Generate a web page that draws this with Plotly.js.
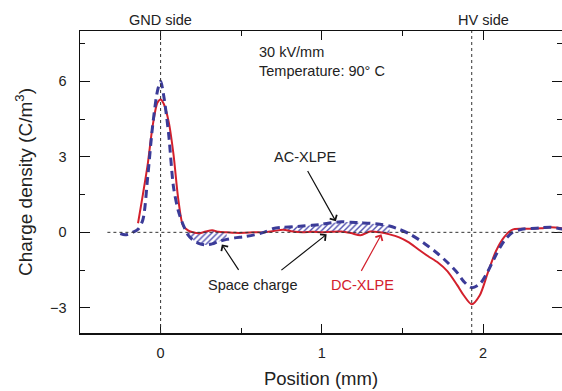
<!DOCTYPE html>
<html>
<head>
<meta charset="utf-8">
<script src="https://cdn.plot.ly/plotly-3.0.1.min.js"></script>
<style>html,body{margin:0;padding:0;background:#fff;}#chart{width:562px;height:391px;}</style>
</head>
<body>
<div id="chart"></div>
<script>
// Position (mm)
var position = [-0.25, -0.22, -0.18, -0.14, -0.11, -0.08, -0.05, -0.02, 0, 0.02, 0.05, 0.08, 0.11, 0.14, 0.17, 0.2, 0.24, 0.28, 0.32, 0.36, 0.41, 0.46, 0.52, 0.58, 0.64, 0.7, 0.76, 0.82, 0.88, 0.94, 1.0, 1.06, 1.12, 1.18, 1.24, 1.3, 1.36, 1.42, 1.48, 1.54, 1.6, 1.66, 1.72, 1.78, 1.84, 1.88, 1.93, 1.98, 2.03, 2.08, 2.13, 2.18, 2.24, 2.3, 2.36, 2.42, 2.5];
// DC-XLPE charge density (C/m^3)
var dcXlpe = [null, null, null, 0.36, 1.5, 2.7, 4.2, 5.15, 5.28, 5.1, 4.4, 3.1, 1.3, 0.25, 0.08, 0.0, -0.04, 0.03, 0.08, 0.02, 0.0, -0.02, -0.02, 0.0, 0.0, 0.05, 0.1, 0.03, 0.0, 0.02, 0.0, 0.02, 0.03, -0.03, -0.12, 0.03, 0.0, -0.08, -0.2, -0.4, -0.68, -0.95, -1.2, -1.55, -2.1, -2.5, -2.86, -2.5, -1.6, -0.75, -0.2, 0.1, 0.14, 0.14, 0.16, 0.2, 0.15];
// AC-XLPE charge density (C/m^3)
var acXlpe = [-0.05, -0.1, -0.02, 0.12, 0.5, 2.2, 4.2, 5.6, 6.0, 5.4, 3.9, 1.8, 0.85, 0.3, -0.1, -0.3, -0.45, -0.5, -0.46, -0.36, -0.28, -0.22, -0.17, -0.1, 0.0, 0.15, 0.2, 0.22, 0.25, 0.28, 0.32, 0.38, 0.42, 0.4, 0.38, 0.36, 0.32, 0.25, 0.12, -0.05, -0.28, -0.55, -0.85, -1.2, -1.6, -1.95, -2.2, -2.05, -1.55, -0.9, -0.35, -0.02, 0.12, 0.15, 0.18, 0.2, 0.12];
// Space-charge (hatched) ranges, mm
var hatchRanges = [[0.17, 0.41], [0.76, 1.42]];
// Electrode positions (mm)
var electrodes = [0, 1.93];
var electrodeLabels = ["GND side", "HV side"];
var electrodeLabelX = [0, 2];

var red = "#d3202c", blue = "#3b3b98";
var traces = [];
hatchRanges.forEach(function (r) {
  var xs = [], lo = [], hi = [];
  for (var i = 0; i < position.length; i++) {
    if (position[i] >= r[0] && position[i] <= r[1]) {
      xs.push(position[i]); lo.push(dcXlpe[i]); hi.push(acXlpe[i]);
    }
  }
  traces.push({x: xs, y: lo, mode: "lines", line: {width: 0, color: blue}, hoverinfo: "skip", showlegend: false});
  traces.push({x: xs, y: hi, mode: "lines", line: {width: 0, color: blue}, fill: "tonexty", fillcolor: "rgba(0,0,0,0)",
    fillpattern: {shape: "/", fgcolor: "#5050b0", bgcolor: "rgba(255,255,255,0)", size: 4, solidity: 0.35},
    hoverinfo: "skip", showlegend: false});
});
traces.push({x: position, y: dcXlpe, mode: "lines", name: "DC-XLPE", line: {color: red, width: 2, shape: "spline", smoothing: 0.8}, connectgaps: false});
traces.push({x: position, y: acXlpe, mode: "lines", name: "AC-XLPE", line: {color: blue, width: 3, dash: "8px,5px", shape: "spline", smoothing: 0.8}});

var font = "Liberation Sans, Arial, sans-serif";
var shapes = electrodes.map(function (e) {
  return {type: "line", xref: "x", yref: "paper", x0: e, x1: e, y0: 0, y1: 1, line: {color: "#333", width: 1, dash: "dot"}};
});
shapes.push({type: "line", xref: "x", yref: "y", x0: -0.33, x1: 2.5, y0: 0, y1: 0, line: {color: "#333", width: 1, dash: "dot"}});

var annotations = [];
var af = 14.5;
electrodeLabels.forEach(function (t, i) {
  annotations.push({text: t, x: electrodeLabelX[i], xref: "x", y: 1.036, yref: "paper", showarrow: false, xanchor: "center", yanchor: "middle", font: {size: 14.5, color: "#222", family: font}});
});
annotations.push({text: "30 kV/mm", x: 0.6, y: 7.18, xref: "x", yref: "y", showarrow: false, xanchor: "left", yanchor: "middle", font: {size: af, color: "#222", family: font}});
annotations.push({text: "Temperature: 90\u00b0 C", x: 0.6, y: 6.43, xref: "x", yref: "y", showarrow: false, xanchor: "left", yanchor: "middle", font: {size: af, color: "#222", family: font}});
annotations.push({text: "AC-XLPE", x: 0.894, y: 2.98, showarrow: false, font: {size: af, color: "#222", family: font}});
annotations.push({text: "Space charge", x: 0.57, y: -2.1, showarrow: false, font: {size: af, color: "#222", family: font}});
annotations.push({text: "DC-XLPE", x: 1.255, y: -2.1, showarrow: false, font: {size: af, color: red, family: font}});
var arrows = [
  [0.907, 2.5, 1.087, 0.44, "#111"],
  [0.49, -1.55, 0.38, -0.48, "#111"],
  [0.74, -1.55, 1.03, -0.08, "#111"],
  [1.24, -1.59, 1.37, -0.08, red]
];
arrows.forEach(function (a) {
  annotations.push({text: "", x: a[2], y: a[3], ax: a[0], ay: a[1], axref: "x", ayref: "y", xref: "x", yref: "y",
    showarrow: true, arrowhead: 4, arrowsize: 1.3, arrowwidth: 1.2, arrowcolor: a[4], standoff: 0, startstandoff: 0});
});

var layout = {
  width: 562, height: 391,
  margin: {l: 80, r: 0, t: 31, b: 58},
  paper_bgcolor: "#fff", plot_bgcolor: "#fff",
  showlegend: false,
  font: {family: font, color: "#222", size: 14},
  xaxis: {range: [-0.5, 2.49], tickvals: [0, 1, 2], ticks: "inside", ticklen: 9, tickwidth: 1, tickcolor: "#111",
    showline: true, linecolor: "#111", linewidth: 1.5, mirror: "allticks", showgrid: false, zeroline: false,
    minor: {dtick: 0.5, tick0: 0, ticks: "inside", ticklen: 5, tickcolor: "#111", showgrid: false},
    ticklabelstandoff: 6, tickfont: {size: 14.5, family: font},
    title: {text: "Position (mm)", font: {size: 18.5, family: font}, standoff: 12}},
  yaxis: {range: [-4, 8], tickvals: [-3, 0, 3, 6], ticktext: ["\u22123", "0", "3", "6"], ticks: "inside", ticklen: 10, tickwidth: 1, tickcolor: "#111",
    showline: true, linecolor: "#111", linewidth: 1.5, mirror: "allticks", showgrid: false, zeroline: false,
    minor: {dtick: 1.5, tick0: 0, ticks: "inside", ticklen: 5, tickcolor: "#111", showgrid: false},
    ticklabelstandoff: 9, tickfont: {size: 14.5, family: font},
    title: {text: "Charge density (C/m<sup>3</sup>)", font: {size: 19, family: font}, standoff: 12}},
  shapes: shapes,
  annotations: annotations
};
Plotly.newPlot("chart", traces, layout, {staticPlot: true, displayModeBar: false});
</script>
</body>
</html>
